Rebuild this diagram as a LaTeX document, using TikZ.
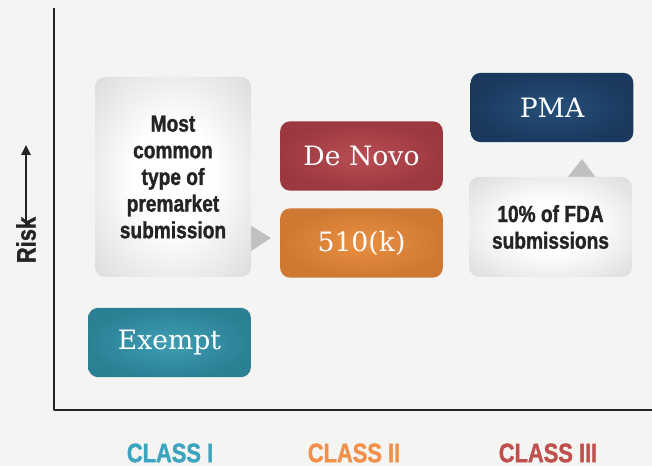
\documentclass[tikz,border=0pt]{standalone}
\usepackage{fontspec}
\setmainfont{DejaVu Serif}
\newfontfamily\condfont[FakeStretch=0.82,FakeBold=1.3]{Liberation Sans Bold}
\usetikzlibrary{arrows.meta}
\definecolor{paper}{RGB}{244,245,242}
\definecolor{ink}{RGB}{36,36,36}
\definecolor{tealmid}{RGB}{62,158,180}
\definecolor{tealedge}{RGB}{44,128,148}
\definecolor{redmid}{RGB}{184,78,84}
\definecolor{rededge}{RGB}{156,56,64}
\definecolor{orgmid}{RGB}{234,144,66}
\definecolor{orgedge}{RGB}{206,120,50}
\definecolor{navymid}{RGB}{38,80,122}
\definecolor{navyedge}{RGB}{27,57,94}
\definecolor{notegrey}{RGB}{192,192,192}
\definecolor{notelite}{RGB}{216,216,216}
\definecolor{cteal}{RGB}{59,164,191}
\definecolor{corange}{RGB}{240,144,74}
\definecolor{cred}{RGB}{192,80,77}
% white centre, grey only near the rim
\pgfdeclareradialshading{notefade}{\pgfpoint{0bp}{0bp}}{color(0bp)=(white); color(13bp)=(white); color(38bp)=(notelite); color(50bp)=(notegrey)}

\begin{document}
\begin{tikzpicture}[x=0.75pt,y=-0.75pt,line cap=round,line join=round,
  pathbox/.style={rounded corners=7.5pt,minimum width=122pt,minimum height=52pt,
    inner sep=0pt,text=white,font=\fontsize{20}{24}\selectfont},
  notebox/.style={rounded corners=7.5pt,inner sep=0pt,shading=notefade,shade,
    text=ink,align=center,font=\condfont\fontsize{17.5}{20}\selectfont},
  classlabel/.style={font=\condfont\fontsize{20}{24}\selectfont}]
\useasboundingbox (0,0) rectangle (652,466);
\fill[paper] (0,0) rectangle (652,466);

% axes
\draw[ink,line width=1.5pt,line cap=butt] (54,8) -- (54,410) -- (652,410);
\node[rotate=90,text=ink,inner sep=1pt,font=\condfont\fontsize{20}{22}\selectfont] (risk) at (26,240) {Risk};
\coordinate (risktip) at (28,145);
\draw[ink,line width=1.1pt,-{Triangle[length=7.5pt,width=7pt]}] ([yshift=-7pt]risk.east) -- (risk.east |- risktip);

% callout pointers
\fill[notegrey] (245,222) -- (271,238) -- (245,255) -- cycle;
\fill[notegrey] (563,183) -- (582,159) -- (600,183) -- cycle;

% notes
\node[notebox,minimum width=117pt,minimum height=150pt] (common) at (173,177)
  {Most\\common\\type of\\premarket\\submission};
\node[notebox,minimum width=122pt,minimum height=75pt] (share) at (550.5,227)
  {10\% of FDA\\submissions};

% pathways
\node[pathbox,shade,inner color=tealmid,outer color=tealedge] (exempt) at (169.5,342.5) {Exempt};
\node[pathbox,shade,inner color=redmid,outer color=rededge] (denovo) at (361.5,156) {De Novo};
\node[pathbox,shade,inner color=orgmid,outer color=orgedge] (clear) at (361.5,243) {510(k)};
\node[pathbox,shade,inner color=navymid,outer color=navyedge] (pma) at (552,107.5) {PMA};

% classes
\node[classlabel,text=cteal] (classI) at (170,453) {CLASS I};
\node[classlabel,text=corange] (classII) at (354,453) {CLASS II};
\node[classlabel,text=cred] (classIII) at (548,453) {CLASS III};
\end{tikzpicture}
\end{document}
